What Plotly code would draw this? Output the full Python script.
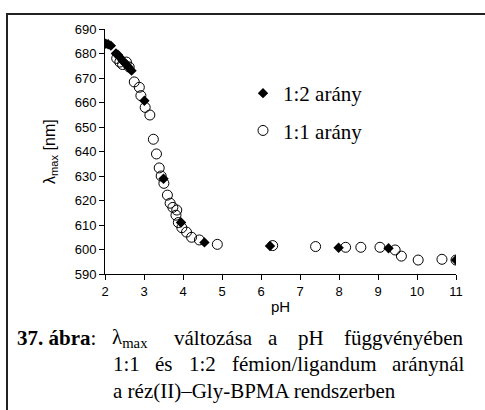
import plotly.graph_objects as go

# pH-dependence of lambda_max for the copper(II)-Gly-BPMA system
ph_12 = [2.02, 2.08, 2.15, 2.28, 2.33, 2.38, 2.45, 2.52, 2.60, 2.68, 3.01, 3.50,
         3.95, 4.55, 6.23, 7.99, 9.27, 11.00]
lam_12 = [684.0, 683.8, 683.2, 680.0, 679.5, 678.5, 677.0, 676.0, 674.5, 673.0,
          660.7, 628.9, 611.0, 602.9, 601.4, 600.7, 600.5, 595.7]

ph_11 = [2.30, 2.38, 2.45, 2.55, 2.62, 2.75, 2.88, 2.92, 3.03, 3.15, 3.24, 3.32,
         3.39, 3.44, 3.51, 3.60, 3.67, 3.74, 3.84, 3.82, 3.88, 3.97, 4.09, 4.22,
         4.42, 4.88, 6.30, 7.40, 8.17, 8.56, 9.05, 9.44, 9.60, 10.03, 10.64, 11.00]
lam_11 = [678.0, 676.5, 675.5, 676.5, 674.5, 668.4, 666.2, 662.8, 658.0, 654.9,
          645.0, 639.0, 633.3, 630.0, 627.0, 622.2, 618.9, 617.2, 616.1, 614.0,
          611.0, 608.9, 607.1, 605.0, 603.9, 602.1, 601.6, 601.2, 600.9, 600.9,
          600.9, 599.8, 597.3, 595.7, 596.0, 595.7]

x_ticks = list(range(2, 12))
y_ticks = list(range(590, 700, 10))

W, H = 485, 410
ML, MR, MT, MB = 105, 29, 29, 136
PW, PH = W - ML - MR, H - MT - MB

def fx(px):
    return (px - ML) / PW

def fy(py):
    return (H - MB - py) / PH

SERIF = "Times New Roman, Liberation Serif, serif"
SANS = "Arial, Liberation Sans, sans-serif"

fig = go.Figure()
fig.add_trace(go.Scatter(
    x=ph_12, y=lam_12, mode="markers", name="1:2 arány", legendgroup="a",
    marker=dict(symbol="diamond", size=8, color="black", line=dict(width=0)),
))
fig.add_trace(go.Scatter(
    x=ph_11, y=lam_11, mode="markers", name="1:1 arány", legendgroup="b",
    marker=dict(symbol="circle-open", size=10, color="black", line=dict(width=1)),
))

axis_common = dict(
    showgrid=False, zeroline=False, showline=True, linecolor="black", linewidth=1,
    ticks="outside", ticklen=5, tickcolor="black", tickwidth=1,
    tickfont=dict(family=SANS, size=13, color="black"),
)
fig.update_xaxes(range=[2, 11], tickvals=x_ticks, **axis_common)
fig.update_yaxes(range=[590, 690], tickvals=y_ticks, **axis_common)

annotations = [
    dict(x=0.5, y=fy(306), text="pH", font=dict(family=SANS, size=15)),
    dict(x=fx(50), y=fy(152), text="λ<sub>max</sub> [nm]", textangle=-90,
         font=dict(family=SANS, size=16)),
]

# caption, first two lines justified word by word
caption_words = [
    (15, 338, "<b>37. ábra</b>:"),
    (110, 338, "λ<sub>max</sub>"),
    (172, 338, "változása"),
    (266, 338, "a"),
    (296, 338, "pH"),
    (342, 338, "függvényében"),
    (111, 364, "1:1"),
    (153, 364, "és"),
    (187, 364, "1:2"),
    (230, 364, "fémion/ligandum"),
    (390, 364, "aránynál"),
    (111, 391, "a réz(II)–Gly-BPMA rendszerben"),
]
for px, py, txt in caption_words:
    annotations.append(dict(x=fx(px), y=fy(py), text=txt, xanchor="left",
                            font=dict(family=SERIF, size=21)))

for a in annotations:
    a.setdefault("xanchor", "center")
    a.update(xref="paper", yref="paper", yanchor="middle", showarrow=False)
    a["font"]["color"] = "black"

fig.update_layout(
    width=W, height=H,
    margin=dict(l=ML, r=MR, t=MT, b=MB),
    paper_bgcolor="white", plot_bgcolor="white",
    annotations=annotations,
    showlegend=True,
    legend=dict(x=fx(243), y=fy(73), xanchor="left", yanchor="top",
                bgcolor="rgba(0,0,0,0)", tracegroupgap=7,
                font=dict(family=SERIF, size=21, color="black")),
    shapes=[dict(type="rect", xref="paper", yref="paper",
                 x0=fx(7), x1=fx(495), y0=fy(420), y1=fy(14),
                 line=dict(color="#222", width=2))],
)

fig.write_html("out.html")
